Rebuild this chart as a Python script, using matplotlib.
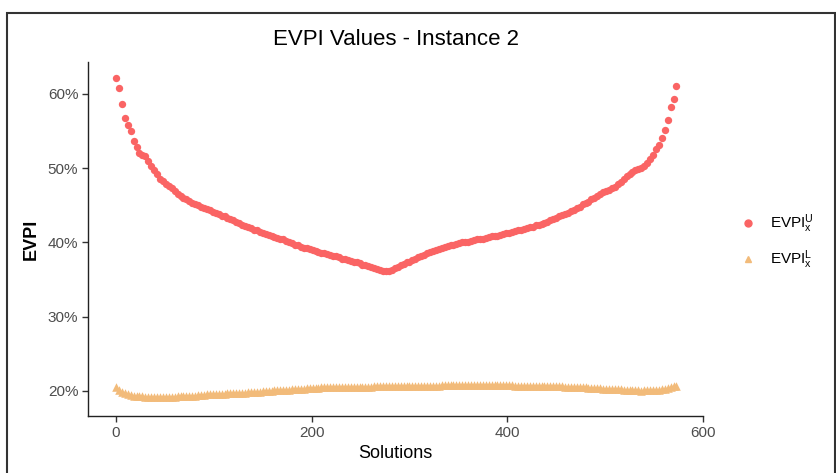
import matplotlib
matplotlib.use("Agg")
import matplotlib.pyplot as plt
from matplotlib.lines import Line2D
from matplotlib.patches import Rectangle

plt.rcParams['font.family'] = ['Liberation Sans', 'DejaVu Sans']
plt.rcParams['mathtext.fontset'] = 'custom'
plt.rcParams['mathtext.rm'] = 'Liberation Sans'
plt.rcParams['mathtext.it'] = 'Liberation Sans:italic'

# solution index (every 3rd solution, plus the last one)
solutions = list(range(0, 571, 3)) + [572]

# EVPI upper values (%)
evpi_u = [62.2, 60.8, 58.6, 56.7, 55.8, 55.0, 53.6, 52.8, 52.1, 51.8,
          51.7, 51.0, 50.3, 49.8, 49.2, 48.6, 48.2, 47.9, 47.6, 47.3,
          46.9, 46.5, 46.2, 46.0, 45.8, 45.6, 45.3, 45.1, 45.0, 44.8,
          44.6, 44.5, 44.3, 44.1, 44.0, 43.8, 43.6, 43.5, 43.3, 43.2,
          43.0, 42.8, 42.6, 42.4, 42.2, 42.0, 41.9, 41.7, 41.6, 41.4,
          41.2, 41.1, 41.0, 40.8, 40.7, 40.6, 40.5, 40.4, 40.2, 40.0,
          39.9, 39.7, 39.6, 39.4, 39.3, 39.2, 39.1, 39.0, 38.9, 38.7,
          38.6, 38.5, 38.4, 38.3, 38.2, 38.1, 38.0, 37.8, 37.7, 37.6,
          37.5, 37.4, 37.3, 37.2, 37.0, 36.9, 36.8, 36.7, 36.5, 36.4,
          36.3, 36.2, 36.2, 36.2, 36.3, 36.5, 36.7, 36.9, 37.1, 37.3,
          37.4, 37.6, 37.8, 38.0, 38.2, 38.3, 38.5, 38.7, 38.8, 39.0,
          39.1, 39.2, 39.4, 39.5, 39.6, 39.7, 39.8, 39.9, 40.0, 40.0,
          40.1, 40.2, 40.3, 40.4, 40.4, 40.5, 40.6, 40.7, 40.8, 40.9,
          40.9, 41.0, 41.1, 41.2, 41.3, 41.4, 41.5, 41.6, 41.7, 41.8,
          41.9, 42.0, 42.1, 42.3, 42.4, 42.5, 42.6, 42.8, 43.0, 43.1,
          43.3, 43.5, 43.7, 43.8, 44.0, 44.2, 44.4, 44.6, 44.8, 45.1,
          45.3, 45.5, 45.8, 46.0, 46.3, 46.5, 46.8, 46.9, 47.1, 47.3,
          47.5, 47.8, 48.1, 48.5, 48.9, 49.2, 49.5, 49.7, 49.9, 50.0,
          50.3, 50.7, 51.2, 51.8, 52.6, 53.1, 54.0, 55.1, 56.5, 58.2,
          59.3, 61.0]

# EVPI lower values (%)
evpi_l = [20.5, 20.1, 19.9, 19.7, 19.5, 19.4, 19.35, 19.3, 19.25, 19.25,
          19.2, 19.2, 19.2, 19.15, 19.15, 19.15, 19.15, 19.2, 19.2, 19.2,
          19.2, 19.25, 19.25, 19.3, 19.3, 19.3, 19.35, 19.35, 19.4, 19.4,
          19.45, 19.5, 19.5, 19.5, 19.55, 19.55, 19.6, 19.6, 19.65, 19.65,
          19.7, 19.7, 19.75, 19.75, 19.75, 19.8, 19.85, 19.85, 19.9, 19.9,
          19.95, 20.0, 20.0, 20.0, 20.05, 20.05, 20.1, 20.1, 20.15, 20.15,
          20.2, 20.25, 20.25, 20.3, 20.3, 20.35, 20.35, 20.4, 20.4, 20.4,
          20.45, 20.45, 20.45, 20.5, 20.5, 20.5, 20.5, 20.5, 20.5, 20.55,
          20.55, 20.55, 20.55, 20.55, 20.55, 20.55, 20.55, 20.55, 20.6, 20.6,
          20.6, 20.6, 20.6, 20.6, 20.6, 20.6, 20.6, 20.6, 20.6, 20.6,
          20.65, 20.65, 20.65, 20.65, 20.65, 20.7, 20.7, 20.7, 20.7, 20.7,
          20.7, 20.75, 20.75, 20.75, 20.75, 20.75, 20.75, 20.75, 20.75, 20.75,
          20.75, 20.75, 20.75, 20.75, 20.75, 20.75, 20.75, 20.75, 20.75, 20.75,
          20.75, 20.75, 20.75, 20.75, 20.75, 20.75, 20.7, 20.7, 20.7, 20.7,
          20.7, 20.7, 20.7, 20.7, 20.7, 20.65, 20.65, 20.65, 20.6, 20.6,
          20.6, 20.6, 20.6, 20.55, 20.55, 20.55, 20.5, 20.5, 20.5, 20.5,
          20.45, 20.4, 20.4, 20.4, 20.35, 20.35, 20.3, 20.3, 20.3, 20.25,
          20.25, 20.2, 20.2, 20.15, 20.15, 20.1, 20.05, 20.05, 20.05, 20.0,
          20.05, 20.05, 20.05, 20.1, 20.1, 20.15, 20.2, 20.25, 20.35, 20.5,
          20.6, 20.7]

red = "#FA6464"
tan = "#F2BB7A"

fig = plt.figure(figsize=(8.37, 4.73), dpi=100)
ax = fig.add_axes([88/837, 1-416/473, 615.5/837, 354/473])

ax.scatter(solutions, evpi_u, s=28, color=red, marker="o", linewidths=0, zorder=3)
ax.scatter(solutions, evpi_l, s=38, color=tan, marker="^", linewidths=0, zorder=3)

ax.set_xlim(-28.6, 600.6)
ax.set_ylim(16.6, 64.3)
ax.set_xticks([0, 200, 400, 600])
ax.set_yticks([20, 30, 40, 50, 60])
ax.set_yticklabels([f"{v}%" for v in [20, 30, 40, 50, 60]])

for s in ["top", "right"]:
    ax.spines[s].set_visible(False)
for s in ["left", "bottom"]:
    ax.spines[s].set_color("#222222")
    ax.spines[s].set_linewidth(1.0)
ax.tick_params(length=4, width=1.0, color="#333333", labelcolor="#4D4D4D",
               labelsize=11, pad=3)

ax.set_title("EVPI Values - Instance 2", fontsize=16, pad=12)
ax.set_xlabel("Solutions", fontsize=13)
ax.xaxis.set_label_coords(0.5, -0.082)
ax.xaxis.label.set_va("top")
ax.set_ylabel("EVPI", fontsize=13, fontweight="bold")
ax.yaxis.set_label_coords(-0.078, 0.5)

handles = [
    Line2D([], [], linestyle="none", marker="o", color=red, markersize=5),
    Line2D([], [], linestyle="none", marker="^", color=tan, markersize=5),
]
labels = [r"EVPI$_{\mathrm{x}}^{\mathrm{U}}$", r"EVPI$_{\mathrm{x}}^{\mathrm{L}}$"]
fig.legend(handles, labels, loc="center left", bbox_to_anchor=(733/837, 1-242/473),
           frameon=False, fontsize=11, handlelength=1.2, handletextpad=0.8,
           labelspacing=0.9, borderaxespad=0)

fig.patches.append(Rectangle((7/837, -0.05), 828/837, 0.05 + 1-13/473,
                             transform=fig.transFigure, fill=False,
                             edgecolor="#333333", linewidth=1.5))

fig.savefig("out.png", dpi=100)
